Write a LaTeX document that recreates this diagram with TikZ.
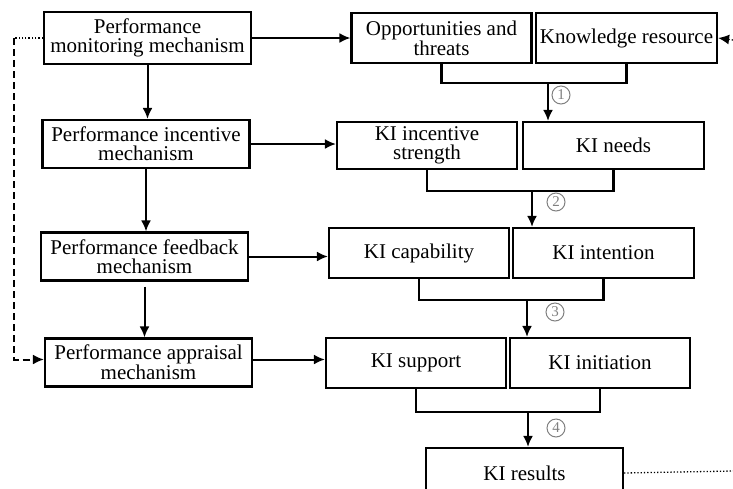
\documentclass[tikz,border=0pt]{standalone}
\usepackage{fontspec}
\setmainfont{Liberation Serif}
\usepackage{tikz}
\usetikzlibrary{arrows.meta}
\tikzset{every node/.style={font=\fontsize{21}{19}\selectfont},
  box/.style={draw, line width=2.2pt, align=center, inner sep=0pt, minimum height=48pt},
  mechbox/.style={box, minimum width=207pt},
  kibox/.style={box, minimum width=180pt, minimum height=50pt},
  flow/.style={line width=2pt, -{Latex[length=11pt,width=10pt]}},
  joint/.style={line width=2.2pt},
  stepnum/.style={circle, draw=gray, text=gray, line width=1pt, inner sep=0pt,
    minimum size=18pt, font=\fontsize{15}{15}\selectfont}}

\begin{document}
\begin{tikzpicture}[x=1pt, y=-1pt]
  \useasboundingbox (0,0) rectangle (733,488);
  % mechanisms (left)
  \node[mechbox, minimum height=52pt] (mon) at (147.5,38) {Performance\\monitoring mechanism};
  \node[mechbox] (inc) at (146,144) {Performance incentive\\mechanism};
  \node[mechbox] (fb) at (144.5,256.5) {Performance feedback\\mechanism};
  \node[mechbox] (app) at (148.5,362.5) {Performance appraisal\\mechanism};
  % knowledge innovation (right)
  \node[kibox] (opp) at (441.5,38) {Opportunities and\\threats};
  \node[kibox, minimum width=181pt] (kres) at (626.5,38) {Knowledge resource};
  \node[kibox, minimum height=47pt] (kis) at (427,145.5) {KI incentive\\strength};
  \node[kibox, minimum height=47pt, minimum width=181pt] (kn) at (613.5,145.5) {KI needs};
  \node[kibox] (kcap) at (419,253) {KI capability};
  \node[kibox, minimum width=181pt] (kint) at (603.5,253) {KI intention};
  \node[kibox] (ksup) at (416,363) {KI support};
  \node[kibox] (kini) at (600,363) {KI initiation};
  \node[kibox, minimum width=197pt] (kout) at (524.5,473) {KI results};
  \coordinate (lc) at (14,38);
  \coordinate (rt) at (733,40);
  \coordinate (rb) at (733,471);

  \draw[flow] (mon.south) -- (mon.south |- inc.north);
  \draw[flow] (inc.south) -- (inc.south |- fb.north);
  \draw[flow] ([yshift=-5pt]fb.south) -- (fb.south |- app.north);
  \draw[flow] (mon.east) -- (mon.east -| opp.west);
  \draw[flow] (inc.east) -- (inc.east -| kis.west);
  \draw[flow] (fb.east) -- (fb.east -| kcap.west);
  \draw[flow] ([yshift=3pt]app.east) -- ([yshift=3pt]app.east -| ksup.west);

  \draw[joint] (opp.south) -- ++(0,19) -| (kres.south);
  \coordinate (j1) at (548,82);
  \draw[flow] (j1) -- (j1 |- kn.north);
  \draw[joint] (kis.south) -- ++(0,21) -| (kn.south);
  \coordinate (j2) at (532,190);
  \draw[flow] (j2) -- (j2 |- kint.north);
  \draw[joint] (kcap.south) -- ++(0,21) -| (kint.south);
  \coordinate (j3) at (527,299);
  \draw[flow] (j3) -- (j3 |- kini.north);
  \draw[joint] (ksup.south) -- ++(0,23) -| (kini.south);
  \coordinate (j4) at (528,411);
  \draw[flow] (j4) -- (j4 |- kout.north);

  \node[stepnum] (n1) at (561,95) {1};
  \node[stepnum] (n2) at (556,202) {2};
  \node[stepnum] (n3) at (555,312) {3};
  \node[stepnum] (n4) at (556,428) {4};

  % feedback loops
  \draw[line width=1.3pt, dotted] (mon.west) -- (lc);
  \draw[line width=2pt, dash pattern=on 7pt off 4pt, -{Latex[length=11pt,width=10pt]}] (lc) |- ([yshift=3pt]app.west);
  \draw[line width=1.3pt, dotted, -{Latex[length=11pt,width=10pt]}] (rt) -- (kres.east);
  \draw[line width=1.3pt, dotted] (kout.east) -- (rb);
\end{tikzpicture}
\end{document}
